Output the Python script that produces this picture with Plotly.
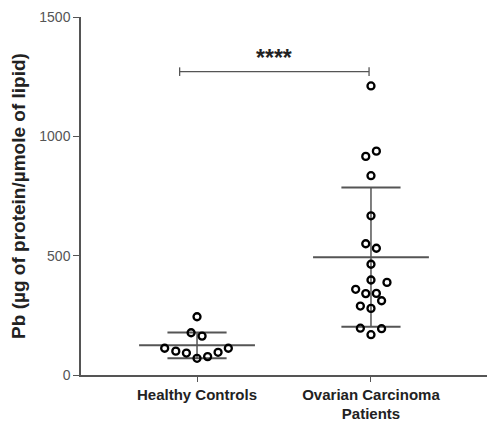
import plotly.graph_objects as go
import numpy as np

categories = ["Healthy Controls", "Ovarian Carcinoma<br>Patients"]
healthy_values = [244, 177, 163, 112, 100, 92, 70, 77, 95, 112]
ovarian_values = [1211, 916, 938, 835, 667, 550, 531, 464, 398, 388, 359, 341, 342,
                  311, 289, 279, 196, 194, 169]
# horizontal scatter offsets (category units) for the dot plot layout
healthy_offsets = [0, -0.034, 0.029, -0.186, -0.122, -0.061, 0, 0.061, 0.121, 0.18]
ovarian_offsets = [0, -0.03, 0.031, 0, 0, -0.03, 0.031, 0, 0, 0.092, -0.088, -0.03,
                   0.031, 0.061, -0.061, 0, -0.061, 0.061, 0]
significance = "****"
bracket_value = 1271
y_ticks = [0, 500, 1000, 1500]

LINE = "#555555"
groups = [(healthy_values, healthy_offsets), (ovarian_values, ovarian_offsets)]

fig = go.Figure()
for i, (vals, offs) in enumerate(groups):
    v = np.array(vals, dtype=float)
    m = v.mean()
    sd = v.std(ddof=1)
    fig.add_trace(go.Scatter(x=[i - 0.333, i + 0.333], y=[m, m], mode="lines",
                             line=dict(color=LINE, width=2), hoverinfo="skip", showlegend=False))
    fig.add_trace(go.Scatter(x=[i, i], y=[m - sd, m + sd], mode="lines",
                             line=dict(color=LINE, width=1.5), hoverinfo="skip", showlegend=False))
    for yy in (m - sd, m + sd):
        fig.add_trace(go.Scatter(x=[i - 0.17, i + 0.17], y=[yy, yy], mode="lines",
                                 line=dict(color=LINE, width=2), hoverinfo="skip", showlegend=False))
    fig.add_trace(go.Scatter(x=[i + o for o in offs], y=vals, mode="markers",
                             marker=dict(symbol="circle-open", size=7, color="black",
                                         line=dict(width=2.3, color="black")),
                             showlegend=False))

# significance bracket
xl, xr = -0.1, 1 - 0.011
yb = bracket_value
fig.add_trace(go.Scatter(x=[xl, xr, None, xl, xl, None, xr, xr],
                         y=[yb, yb, None, yb - 18, yb + 18, None, yb - 18, yb + 18],
                         mode="lines", line=dict(color=LINE, width=1.3),
                         hoverinfo="skip", showlegend=False))
fig.add_annotation(x=(xl + xr) / 2, y=yb, yshift=14, text="<b>" + significance + "</b>",
                   showarrow=False, font=dict(size=23, color="#222222", family="Arial"))

fig.update_layout(
    width=487, height=423,
    margin=dict(l=81, r=0, t=17, b=48),
    plot_bgcolor="white", paper_bgcolor="white",
    font=dict(family="Arial", color="#222222"),
)
fig.update_xaxes(
    range=[-0.667, 1.667], tickmode="array", tickvals=[0, 1],
    ticktext=["<b>" + c.replace("<br>", "</b><br><b>") + "</b>" for c in categories],
    showline=True, linecolor=LINE, linewidth=1.5, ticks="outside", ticklen=5,
    tickcolor=LINE, showgrid=False, zeroline=False,
    tickfont=dict(size=15, color="#222222", family="Arial"),
)
fig.update_yaxes(
    range=[0, 1500], tickvals=y_ticks, showline=True, linecolor=LINE, linewidth=1.5,
    ticks="outside", ticklen=6, tickcolor=LINE, showgrid=False, zeroline=False,
    tickfont=dict(size=14, color="#555555", family="Arial"),
    title=dict(text="<b>Pb (µg of protein/µmole of lipid)</b>",
               font=dict(size=19, color="#222222"), standoff=9),
)
fig.write_html("out.html", config={"displayModeBar": False},
               post_script="document.body.style.margin='0';")
